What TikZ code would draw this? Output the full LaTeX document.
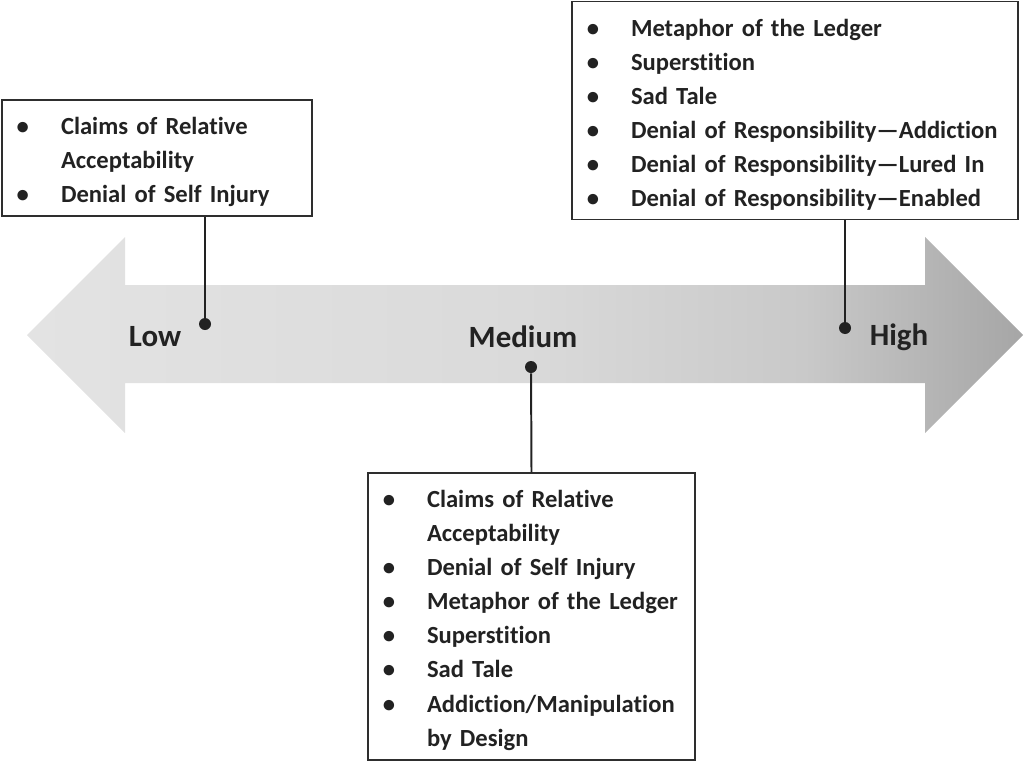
\documentclass[tikz,border=0pt]{standalone}
\usepackage{fontspec}
\setmainfont{Carlito}[Ligatures=NoCommon]
\usepackage{xcolor}
\usepackage{enumitem}
\usetikzlibrary{calc}
\newlength{\px}
\setlength{\px}{0.025cm}
\definecolor{inkgray}{HTML}{222222}
\definecolor{framegray}{HTML}{2E2E2E}
\definecolor{shadeleft}{HTML}{E3E3E3}
\definecolor{shademid}{HTML}{DADADA}
\definecolor{shadehalf}{HTML}{C9C9C9}
\definecolor{shaderight}{HTML}{A6A6A6}
\pgfdeclarehorizontalshading{arrowshade}{100bp}{color(0bp)=(shadeleft); color(25bp)=(shadeleft); color(50bp)=(shademid); color(64bp)=(shadehalf); color(75bp)=(shaderight); color(100bp)=(shaderight)}
\setlist[itemize]{nosep, leftmargin=47\px, labelsep=32\px, label=\textbullet, before=\raggedright, after=\vspace*{9\px}}

\begin{document}
\begin{tikzpicture}[x=0.025cm, y=-0.025cm, >=latex,
		level/.style={text=inkgray, font=\bfseries\fontsize{22}{26}\selectfont},
		dot/.style={circle, fill=inkgray, inner sep=0pt, minimum size=12\px},
		link/.style={draw=inkgray, line width=1.4pt},
		listbox/.style={draw=framegray, line width=1pt, text=inkgray, inner xsep=12\px, inner ysep=0pt, align=left, font=\bfseries\fontsize{17.5}{24.2}\selectfont}]
			\useasboundingbox (0,0) rectangle (1024,762);
			%arrow
			\shade [shading=arrowshade] (27,335) -- (125,237) -- (125,285) -- (925,285) -- (925,237) -- (1023,335) -- (925,433) -- (925,383) -- (125,383) -- (125,433) -- cycle;
			%levels
			\node at (155,337) (low) [level] {Low};
			\node at (523,337) (medium) [level] {Medium};
			\node at (899,337) (high) [level] {High};
			%dots
			\node at (205,324) (lowdot) [dot] {};
			\node at (531,367) (meddot) [dot] {};
			\node at (845,328) (highdot) [dot] {};
			%low box
			\node at (157,158) (lowbox) [listbox, text width=286\px, minimum height=116\px] {
				\begin{itemize}
					\item Claims of Relative\newline Acceptability
					\item Denial of Self Injury
				\end{itemize}};
			%medium box
			\node at (531.5,616.5) (medbox) [listbox, text width=303\px, minimum height=287\px] {
				\begin{itemize}
					\item Claims of Relative\newline Acceptability
					\item Denial of Self Injury
					\item Metaphor of the Ledger
					\item Superstition
					\item Sad Tale
					\item Addiction/Manipulation\newline by Design
				\end{itemize}};
			%high box
			\node at (795,110.5) (highbox) [listbox, text width=422\px, minimum height=218\px] {
				\begin{itemize}
					\item Metaphor of the Ledger
					\item Superstition
					\item Sad Tale
					\item Denial of Responsibility---Addiction
					\item Denial of Responsibility---Lured In
					\item Denial of Responsibility---Enabled
				\end{itemize}};
			%links
			\draw [link] (lowdot) -- (lowdot |- lowbox.south);
			\draw [link] (meddot) -- (medbox.north);
			\draw [link] (highdot) -- (highdot |- highbox.south);
		\end{tikzpicture}
\end{document}
